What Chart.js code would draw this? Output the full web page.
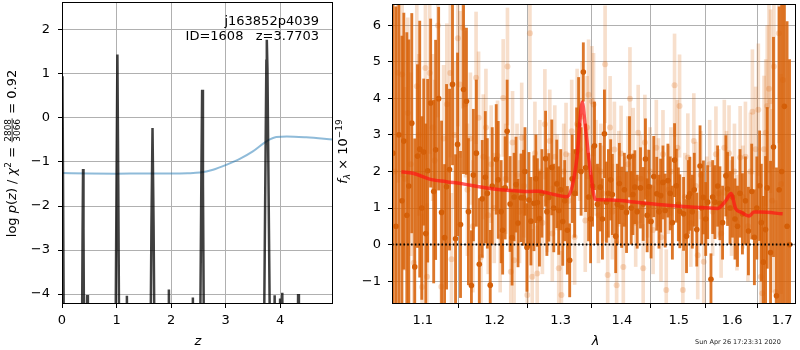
<!DOCTYPE html>
<html>
<head>
<meta charset="utf-8">
<script src="https://cdn.jsdelivr.net/npm/chart.js@4.4.1/dist/chart.umd.min.js"></script>
<style>
  html, body { margin: 0; padding: 0; background: #fff; }
  #wrap { position: relative; width: 800px; height: 350px; overflow: hidden; }
  #pzChart { position: absolute; left: 0; top: 0; width: 340px; height: 350px; }
  #specChart { position: absolute; left: 330px; top: 0; width: 470px; height: 350px; }
</style>
</head>
<body>
<div id="wrap">
  <canvas id="pzChart" width="340" height="350"></canvas>
  <canvas id="specChart" width="470" height="350"></canvas>
</div>
<script>
// p(z) panel: log p(z) spikes and the smooth prior/template curve
const pzZ = [0.000, 0.010, 0.025, 0.040,
  0.360, 0.378, 0.386, 0.394, 0.410,
  0.445, 0.460, 0.475,
  0.975, 1.000, 1.016, 1.032, 1.055,
  1.175, 1.190, 1.205,
  1.615, 1.640, 1.660, 1.680, 1.705,
  1.945, 1.960, 1.975,
  2.385, 2.400, 2.415,
  2.525, 2.555, 2.570, 2.585, 2.610,
  3.695, 3.725, 3.748, 3.756, 3.768, 3.795, 3.825,
  3.885, 3.900, 3.915,
  3.985, 4.000, 4.015, 4.040, 4.055,
  4.315, 4.330, 4.345,
  4.970];
const pzLogp = [0.95, 0.60, -3.0, -6.5,
  -6.5, -2.5, -1.16, -2.5, -6.5,
  -6.5, -4.02, -6.5,
  -6.5, -1.5, 1.44, -1.5, -6.5,
  -6.5, -4.04, -6.5,
  -6.5, -2.5, -0.23, -2.5, -6.5,
  -6.5, -3.90, -6.5,
  -6.5, -4.08, -6.5,
  -6.5, -1.5, 0.64, -1.5, -6.5,
  -6.5, -2.0, 1.3, 1.78, 1.1, -2.5, -6.5,
  -6.5, -4.03, -6.5,
  -6.5, -4.10, -5.0, -3.97, -6.5,
  -6.5, -4.00, -6.5,
  -6.5];
const smoothZ = [0, 0.5, 1.0, 1.5, 2.0, 2.3, 2.53, 2.77, 3.02, 3.26, 3.5, 3.75, 3.93, 4.12, 4.48, 4.97];
const smoothLogp = [-1.25, -1.26, -1.265, -1.26, -1.26, -1.255, -1.24, -1.175, -1.06, -0.93, -0.76, -0.53, -0.43, -0.42, -0.44, -0.49];
const zTicks = [0, 1, 2, 3, 4];
const logpTicks = [-4, -3, -2, -1, 0, 1, 2];

// spectrum panel: binned points (dark), raw points (light), model
const darkLam = [1.0610,1.0649,1.0687,1.0726,1.0751,1.0790,1.0816,1.0855,1.0894,1.0930,
  1.0960,1.0987,1.1013,1.1040,1.1066,1.1106,1.1147,1.1173,1.1214,1.1254,
  1.1295,1.1322,1.1363,1.1404,1.1446,1.1474,1.1515,1.1557,1.1598,1.1626,
  1.1668,1.1696,1.1738,1.1780,1.1822,1.1866,1.1895,1.1937,1.1966,
  1.2024,1.2053,1.2096,1.2118,1.2155,1.2184,1.2228,1.2257,1.2287,1.2316,
  1.2346,1.2390,1.2428,1.2450,1.2480,1.2510,1.2540,1.2586,1.2616,1.2639,
  1.2670,1.2708,1.2765,1.2785,1.2815,1.2861,1.2892,1.2939,1.2970,1.3001,
  1.3033,1.3064,1.3106,1.3143,1.3183,1.3222,1.3254,1.3286,1.3326,1.3362,
  1.3399,1.3447,1.3480,1.3512,
  1.3544,1.3593,1.3637,1.3675,1.3708,1.3741,1.3774,1.3812,1.3840,1.3896,
  1.3924,1.3958,1.3997,1.4043,1.4080,1.4131,1.4160,1.4189,1.4223,1.4263,
  1.4320,1.4367,1.4406,1.4436,1.4465,1.4505,1.4552,1.4604,1.4644,1.4674,
  1.4715,1.4755,1.4804,1.4845,1.4884,1.4923,1.4956,1.4992,1.5019,1.5087,
  1.5141,1.5174,1.5202,1.5247,
  1.5284,1.5330,1.5391,1.5422,1.5454,1.5497,1.5534,1.5596,1.5628,1.5671,
  1.5722,1.5766,1.5817,1.5880,1.5912,1.5960,1.6008,1.6056,1.6105,1.6154,
  1.6202,1.6261,1.6320,1.6385,1.6438,1.6487,1.6543,1.6577,1.6617,1.6662,
  1.6696,1.6763,1.6823,1.6884,1.6939,1.6990,1.7047,1.7102,1.7153];
const darkFlux = [2.5,0.5,3.0,1.2,2.83,0.8,1.6,3.32,-0.61,2.42,
  2.61,1.0,2.53,0.3,2.02,3.87,1.45,2.59,3.99,0.88,
  0.19,1.58,2.05,4.38,0.16,2.74,0.55,4.24,3.92,0.9,
  -1.12,1.9,2.5,-0.54,1.25,1.84,1.4,-1.11,1.6,
  2.33,1.77,0.9,0.39,1.55,3.1,1.11,0.19,1.3,1.64,
  0.59,1.28,1.28,2.0,-0.08,1.22,0.64,1.13,1.8,1.15,
  0.71,1.4,2.35,0.9,1.29,2.11,1.0,1.66,0.93,1.5,
  0.63,1.2,0.39,-0.43,1.8,1.4,2.54,3.27,2.0,4.72,
  2.1,1.3,0.7,1.6,
  2.7,1.1,1.57,0.7,3.03,1.16,1.4,1.77,1.37,0.23,
  1.1,1.67,1.02,1.5,0.88,2.4,1.0,1.37,1.57,0.9,
  1.55,1.11,2.34,0.8,1.58,0.63,1.86,1.39,0.9,1.34,
  1.7,0.93,1.75,1.4,0.6,2.31,1.61,1.1,0.91,0.84,
  0.23,1.3,1.39,0.9,
  1.5,0.41,2.15,1.0,1.29,0.7,1.16,-0.95,1.3,1.16,
  1.6,1.13,0.6,1.88,1.52,1.0,1.3,0.7,0.5,1.4,
  0.84,1.2,0.37,1.45,0.2,1.0,1.61,0.6,-0.48,0.41,
  1.55,-0.22,2.67,-1.4,1.5,2.0,3.78,0.5,0.0];
const darkErr = [6,6,5,4.5,3.5,5,4,3,3.5,2.5,
  3.5,2.5,2,3,2.5,2.3,2.5,3,2.5,2.5,
  2,2.8,2.2,2.2,2.3,2.5,2,2.3,2,2,
  1.5,1.8,2,1.8,1.6,1.8,1.5,1.5,1.6,
  1.5,1.6,1.4,1.2,1.4,1.4,1.3,1.3,1.2,1.3,
  1.2,1.2,1.3,1.2,1.2,1.3,1.2,1.3,1.2,1.2,
  1.3,1.2,1.3,1.2,1.2,1.3,1.2,1.2,1.2,1.1,
  1.2,1.1,1.2,1.0,1.2,1.2,1.2,1.3,1.2,0.8,
  1.2,1.2,1.2,1.1,
  1.2,1.1,1.2,1.1,1.2,1.1,1.2,1.1,1.1,1.0,
  1.1,1.1,1.1,1.0,1.1,1.1,1.0,1.1,1.0,1.0,
  1.1,1.0,1.1,1.0,1.0,1.0,1.1,1.0,1.0,1.0,
  1.0,1.0,1.0,1.0,1.0,1.0,1.0,1.0,1.0,1.0,
  1.0,1.0,1.0,1.0,
  1.0,1.0,1.1,1.0,1.0,1.0,1.0,0.7,1.0,1.0,
  1.1,1.0,1.0,1.1,1.0,1.0,1.1,1.1,1.1,1.2,
  1.1,1.2,1.2,1.3,1.3,1.4,1.5,1.6,1.8,2.0,
  2.2,2.5,3.0,3.5,5,6,6,5.6,5.06];

const lightLam = [1.0636,1.0674,1.0729,1.0764,1.0803,1.0842,1.0881,1.0921,1.0947,1.0991,
  1.1036,1.1057,1.1093,1.1133,1.1160,1.1204,1.1250,1.1281,1.1326,1.1373,
  1.1390,1.1432,1.1478,1.1508,1.1547,1.1584,1.1612,1.1654,1.1689,1.1734,
  1.1770,1.1804,1.1837,1.1875,1.1908,1.1951,1.1995,1.2043,1.2082,1.2126,
  1.2162,1.2189,1.2238,1.2264,1.2287,1.2331,1.2368,1.2401,1.2435,1.2485,
  1.2525,1.2560,1.2601,1.2636,1.2677,1.2716,1.2754,1.2792,1.2830,1.2869,
  1.2908,1.2947,1.2970,1.3012,1.3048,1.3085,1.3127,1.3175,1.3222,1.3262,
  1.3302,1.3342,1.3393,1.3423,1.3447,1.3501,1.3528,1.3569,1.3609,1.3650,
  1.3683,1.3719,1.3762,1.3802,1.3840,1.3874,1.3912,1.3949,1.3987,1.4025,
  1.4067,1.4101,1.4138,1.4194,1.4237,1.4280,1.4323,1.4367,1.4396,1.4444,
  1.4488,1.4540,1.4597,1.4636,1.4680,1.4715,1.4774,1.4813,1.4857,1.4923,
  1.4974,1.5014,1.5074,1.5110,1.5165,1.5220,1.5275,1.5311,1.5348,1.5404,
  1.5460,1.5516,1.5571,1.5628,1.5690,1.5741,1.5789,1.5850,1.5893,1.5941,
  1.5989,1.6046,1.6095,1.6157,1.6212,1.6261,1.6310,1.6359,1.6399,1.6464,
  1.6517,1.6567,1.6597,1.6631,1.6666,1.6696,1.6731,1.6763,1.6797,1.6831,
  1.6868,1.6933,1.6980,1.7020];
const lightFlux = [2.0,4.7,4.65,1.8,3.6,2.2,-0.5,4.33,3.0,-1.16,
  4.83,-0.88,4.69,3.2,2.3,5.99,-1.15,2.9,3.84,4.69,
  -0.4,3.0,5.64,4.38,5.93,3.84,1.5,2.9,0.5,4.56,
  3.47,-0.34,2.4,3.2,0.8,2.2,1.0,2.43,0.2,4.01,
  1.8,4.87,-0.74,2.79,-0.43,1.9,0.9,2.92,1.6,-1.38,
  5.78,-0.88,2.5,-0.79,2.0,0.6,3.29,1.2,2.83,0.3,
  2.4,1.7,-0.65,-1.38,2.0,2.47,1.2,3.1,0.21,3.3,
  2.6,3.5,0.66,3.2,4.1,3.92,3.83,2.1,0.8,2.0,
  1.4,4.93,-0.83,3.2,0.9,2.6,-1.11,1.8,2.49,-0.61,
  1.2,2.2,3.99,2.43,0.6,3.06,1.8,-0.65,2.79,1.4,
  2.0,0.4,2.65,1.7,0.2,2.47,-1.24,1.5,2.0,4.36,
  2.65,3.79,-1.24,1.3,2.38,0.6,2.83,1.6,-0.29,1.9,
  -0.47,1.2,2.2,0.9,2.47,1.4,0.3,2.65,1.9,2.5,
  1.0,2.0,0.6,2.38,1.3,2.4,0.5,2.0,3.63,2.61,
  3.69,-0.88,-1.33,2.61,3.06,3.79,4.26,3.92,1.2,4.87,
  -1.3,5.78,1.66,4.5];
const lightErr = [4.5,3.0,2.8,2.5,2.6,2.5,2.4,2.4,2.2,2.0,
  2.5,2.0,2.2,2.0,2.2,2.5,2.0,2.0,2.2,2.3,
  1.8,2.0,2.4,2.0,2.2,2.0,1.8,1.8,1.8,1.8,
  1.8,1.6,1.7,1.6,1.6,1.6,1.5,1.5,1.5,1.6,
  1.5,1.6,1.4,1.4,1.4,1.4,1.4,1.5,1.4,1.2,
  1.8,1.3,1.4,1.3,1.4,1.4,1.5,1.4,1.4,1.3,
  1.4,1.3,1.3,1.2,1.3,1.4,1.3,1.4,1.3,1.5,
  1.4,1.5,1.4,1.4,1.5,1.5,1.4,1.3,1.3,1.3,
  1.3,1.6,1.2,1.4,1.3,1.3,1.2,1.3,1.3,1.2,
  1.2,1.3,1.4,1.3,1.2,1.3,1.2,1.2,1.3,1.2,
  1.2,1.2,1.3,1.2,1.2,1.2,1.1,1.2,1.2,1.4,
  1.3,1.4,1.1,1.2,1.2,1.2,1.3,1.2,1.2,1.2,
  1.2,1.2,1.2,1.2,1.3,1.2,1.2,1.3,1.2,1.3,
  1.3,1.3,1.3,1.4,1.4,1.5,1.5,1.6,1.7,1.7,
  1.8,1.6,1.8,2.0,2.0,2.2,2.3,2.5,2.5,2.8,
  2.5,3.0,3.0,3.5];

const modelLam = [1.072,1.087,1.109,1.132,1.155,1.178,1.202,1.226,1.251,1.266,1.282,1.310,
  1.318,1.326,1.3345,1.339,1.347,1.356,1.383,1.411,1.469,1.529,1.572,1.588,1.598,
  1.607,1.617,1.633,1.643,1.656,1.701];
const modelFlux = [1.99,1.95,1.79,1.72,1.66,1.58,1.51,1.48,1.45,1.46,1.40,1.31,
  1.57,2.38,3.90,3.29,2.11,1.23,1.22,1.18,1.09,1.02,0.99,1.20,1.40,
  0.98,0.89,0.78,0.89,0.89,0.84];
const lamTicks = [1.1, 1.2, 1.3, 1.4, 1.5, 1.6, 1.7];
const fluxTicks = [-1, 0, 1, 2, 3, 4, 5, 6];

const LAM_MIN = 1.0598, LAM_MAX = 1.7288;
const GRID = '#b0b0b0';
const F = '13px "DejaVu Sans"';
const FI = 'italic 13px "DejaVu Sans"';
const FS = '9px "DejaVu Sans"';
const FSI = 'italic 9px "DejaVu Sans"';

Chart.defaults.font.family = '"DejaVu Sans"';
Chart.defaults.font.size = 13;
Chart.defaults.color = '#000';

function fmt(v) {
  return v < 0 ? '\u2212' + Math.abs(v) : String(v);
}

// text with mixed fonts, sub/superscripts and one stacked fraction
function drawRich(ctx, parts, x, y, vertical) {
  ctx.save();
  ctx.translate(x, y);
  if (vertical) ctx.rotate(-Math.PI / 2);
  ctx.fillStyle = '#000';
  ctx.textBaseline = 'alphabetic';
  const widths = parts.map(p => {
    ctx.font = p.font;
    if (p.num) return Math.max(ctx.measureText(p.num).width, ctx.measureText(p.den).width) + 2;
    return ctx.measureText(p.t).width;
  });
  let u = -widths.reduce((s, w) => s + w, 0) / 2;
  parts.forEach((p, i) => {
    ctx.font = p.font;
    if (p.num) {
      const w = widths[i];
      ctx.textAlign = 'center';
      ctx.fillText(p.num, u + w / 2, -5.5);
      ctx.fillText(p.den, u + w / 2, 4);
      ctx.fillRect(u + 0.5, -4.3, w - 1, 0.8);
    } else {
      ctx.textAlign = 'left';
      ctx.fillText(p.t, u, p.dy || 0);
    }
    u += widths[i];
  });
  ctx.restore();
}

function frame(ctx, a) {
  ctx.save();
  ctx.strokeStyle = '#000';
  ctx.lineWidth = 1;
  ctx.strokeRect(Math.round(a.left) + 0.5, Math.round(a.top) + 0.5,
    Math.round(a.right - a.left) - 1, Math.round(a.bottom - a.top) - 1);
  ctx.restore();
}

// fixed axis boxes so the plot areas land where they should
const fitX = s => { s.height = 46; s.paddingLeft = 0; s.paddingRight = 0; };
const fitY = s => { s.width = 62; s.paddingTop = 0; s.paddingBottom = 0; };

function axisOpts(min, max, ticks, fit, pad, extra) {
  return Object.assign({
    min, max,
    afterBuildTicks: s => { s.ticks = ticks.map(v => ({ value: v })); },
    afterFit: fit,
    grid: { color: GRID, lineWidth: 1, tickColor: '#000', tickLength: 4, drawTicks: true },
    border: { display: false },
    ticks: { color: '#000', padding: pad, autoSkip: false, maxRotation: 0, callback: v => fmt(v) }
  }, extra || {});
}

const pzDecor = {
  id: 'pzDecor',
  afterDraw(chart) {
    const ctx = chart.ctx;
    frame(ctx, chart.chartArea);
    drawRich(ctx, [
      { t: 'log ', font: F }, { t: 'p', font: FI }, { t: '(', font: F }, { t: 'z', font: FI },
      { t: ') / ', font: F }, { t: '\u03c7', font: FI }, { t: '2', font: FS, dy: -5 },
      { t: ' = ', font: F }, { num: '2808', den: '3066', font: FS }, { t: ' = 0.92', font: F }
    ], 16, 153.5, true);
    drawRich(ctx, [{ t: 'z', font: FI }], 197.8, 345, false);
    ctx.save();
    ctx.font = F;
    ctx.fillStyle = '#000';
    ctx.textAlign = 'right';
    ctx.fillText('j163852p4039', 319, 25);
    ctx.fillText('ID=1608   z=3.7703', 319, 39.5);
    ctx.restore();
  }
};

const specDecor = {
  id: 'specDecor',
  afterDraw(chart) {
    const ctx = chart.ctx;
    frame(ctx, chart.chartArea);
    drawRich(ctx, [
      { t: 'f', font: FI }, { t: '\u03bb', font: FSI, dy: 3 },
      { t: ' \u00d7 10', font: F }, { t: '\u221219', font: FS, dy: -5.5 }
    ], 17, 151.5, true);
    drawRich(ctx, [{ t: '\u03bb', font: FI }], 265.5, 345, false);
    ctx.save();
    ctx.font = '6.5px "DejaVu Sans"';
    ctx.fillStyle = '#222';
    ctx.textAlign = 'left';
    ctx.fillText('Sun Apr 26 17:23:31 2020', 365, 344);
    ctx.restore();
  }
};

new Chart(document.getElementById('pzChart'), {
  type: 'scatter',
  data: {
    datasets: [
      {
        type: 'line',
        data: pzZ.map((z, i) => ({ x: z, y: pzLogp[i] })),
        borderColor: 'rgba(0,0,0,0.75)',
        borderWidth: 2.5,
        pointRadius: 0,
        tension: 0,
        clip: 0,
        order: 0
      },
      {
        type: 'line',
        data: smoothZ.map((z, i) => ({ x: z, y: smoothLogp[i] })),
        borderColor: 'rgba(31,119,180,0.5)',
        borderWidth: 2,
        pointRadius: 0,
        cubicInterpolationMode: 'monotone',
        clip: 0,
        order: 1
      }
    ]
  },
  options: {
    responsive: false,
    animation: false,
    devicePixelRatio: 1,
    layout: { padding: { left: 0, top: 2, right: 7, bottom: 0 } },
    plugins: { legend: { display: false }, tooltip: { enabled: false } },
    scales: {
      x: axisOpts(0, 4.97, zTicks, fitX, 5, { type: 'linear' }),
      y: axisOpts(-4.227, 2.636, logpTicks, fitY, 8, { type: 'linear' })
    }
  },
  plugins: [pzDecor]
});

new Chart(document.getElementById('specChart'), {
  type: 'scatter',
  data: {
    datasets: [
      {
        type: 'line',
        data: [{ x: LAM_MIN, y: 0 }, { x: LAM_MAX, y: 0 }],
        borderColor: '#000',
        borderWidth: 2,
        borderDash: [1.6, 2.2],
        pointRadius: 0,
        clip: 0,
        order: 0
      },
      {
        type: 'line',
        data: modelLam.map((l, i) => ({ x: l, y: modelFlux[i] })),
        borderColor: 'rgba(255,20,20,0.7)',
        borderWidth: 3.5,
        pointRadius: 0,
        cubicInterpolationMode: 'monotone',
        clip: 0,
        order: 1
      },
      {
        data: darkLam.map((l, i) => ({ x: l, y: darkFlux[i] })),
        backgroundColor: '#d45f08',
        borderWidth: 0,
        pointRadius: 2.8,
        clip: 0,
        order: 2
      },
      {
        type: 'bar',
        stack: 'err',
        data: darkLam.map((l, i) => ({ x: l, y: [darkFlux[i] - darkErr[i], darkFlux[i] + darkErr[i]] })),
        backgroundColor: 'rgba(215,95,5,0.85)',
        borderWidth: 0,
        barThickness: 2.2,
        clip: 0,
        order: 3
      },
      {
        data: lightLam.map((l, i) => ({ x: l, y: lightFlux[i] })),
        backgroundColor: 'rgba(217,95,2,0.22)',
        borderWidth: 0,
        pointRadius: 3,
        clip: 0,
        order: 4
      },
      {
        type: 'bar',
        stack: 'err',
        data: lightLam.map((l, i) => ({ x: l, y: [lightFlux[i] - lightErr[i], lightFlux[i] + lightErr[i]] })),
        backgroundColor: 'rgba(217,95,2,0.2)',
        borderWidth: 0,
        barThickness: 3,
        clip: 0,
        order: 5
      }
    ]
  },
  options: {
    responsive: false,
    animation: false,
    devicePixelRatio: 1,
    layout: { padding: { left: 0, top: 2, right: 1, bottom: 0 } },
    plugins: { legend: { display: false }, tooltip: { enabled: false } },
    scales: {
      x: axisOpts(LAM_MIN, LAM_MAX, lamTicks, fitX, 5, { type: 'logarithmic', offset: false }),
      y: axisOpts(-1.625, 6.579, fluxTicks, fitY, 7, { type: 'linear', stacked: false })
    }
  },
  plugins: [specDecor]
});
</script>
</body>
</html>
